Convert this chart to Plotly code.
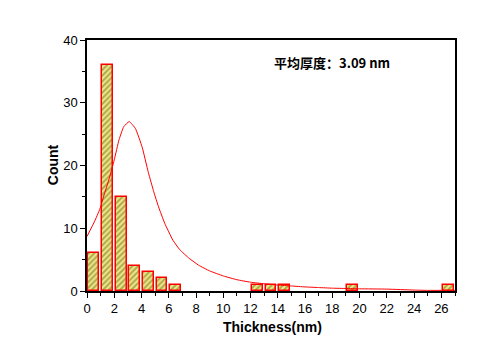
import plotly.graph_objects as go

# Histogram data
bin_centers = [0.5, 1.5, 2.5, 3.5, 4.5, 5.5, 6.5, 12.5, 13.5, 14.5, 19.5, 26.5]
counts = [6, 36, 15, 4, 3, 2, 1, 1, 1, 1, 1, 1]

# Fitted curve
fit_x = [0, 0.6, 1.0, 1.25, 1.6, 2.0, 2.35, 2.7, 3.1, 3.55, 4.05, 4.5, 4.9, 5.25, 5.7,
         6.3, 6.8, 7.5, 8.2, 9.0, 10.0, 11.0, 12.0, 13.0, 14.0, 15.0, 16.0, 17.0,
         18.0, 19.0, 20.0, 22.0, 24.0, 25.0, 27.0]
fit_y = [8.7, 11.3, 13.4, 15.3, 17.7, 20.9, 24.1, 26.2, 27.0, 25.9, 22.9, 18.9, 15.8, 13.4, 10.8,
         8.1, 6.6, 5.2, 4.1, 3.2, 2.4, 1.8, 1.4, 1.15, 0.95, 0.8, 0.65, 0.55,
         0.45, 0.4, 0.35, 0.3, 0.15, 0.1, 0.1]

annotation_text = "平均厚度：3.09 nm"
x_title = "Thickness(nm)"
y_title = "Count"

fig = go.Figure()
fig.add_trace(go.Bar(
    x=bin_centers, y=counts, width=0.8,
    marker=dict(
        color="#eee690",
        line=dict(color="red", width=1.5),
        pattern=dict(shape="/", fgcolor="#6e6e00", bgcolor="#eee690", size=4, solidity=0.5),
    ),
    showlegend=False,
))
fig.add_trace(go.Scatter(
    x=fit_x, y=fit_y, mode="lines",
    line=dict(color="red", width=1, shape="spline", smoothing=0.4),
    showlegend=False,
))

axis_font = dict(family="Liberation Sans, Arial", size=13, color="black")
title_font = dict(family="Liberation Sans, Arial", size=14, color="black")
fig.update_layout(
    width=487, height=344,
    margin=dict(l=87, r=32, t=40, b=53),
    paper_bgcolor="white", plot_bgcolor="white",
    bargap=0,
    xaxis=dict(
        range=[0, 27], tickmode="linear", tick0=0, dtick=2,
        ticks="outside", ticklen=5, tickwidth=1, tickcolor="black",
        minor=dict(ticks="outside", ticklen=3, dtick=1, tick0=0, tickcolor="black"),
        showline=True, linecolor="black", linewidth=1.5, mirror=True,
        showgrid=False, zeroline=False, automargin=False,
        tickfont=axis_font,
    ),
    yaxis=dict(
        range=[0, 40], tickmode="linear", tick0=0, dtick=10,
        ticks="outside", ticklen=5, tickwidth=1, tickcolor="black",
        minor=dict(ticks="outside", ticklen=3, dtick=5, tick0=0, tickcolor="black"),
        showline=True, linecolor="black", linewidth=1.5, mirror=True,
        showgrid=False, zeroline=False, automargin=False,
        tickfont=axis_font,
    ),
    annotations=[
        dict(x=0.666, y=0.912, xref="paper", yref="paper", xanchor="center", yanchor="middle",
             text="<b>" + annotation_text + "</b>", showarrow=False,
             font=dict(family="Noto Sans CJK SC, Liberation Sans", size=13, color="black")),
        dict(x=0.504, y=-0.143, xref="paper", yref="paper", xanchor="center", yanchor="middle",
             text="<b>" + x_title + "</b>", showarrow=False, font=title_font),
        dict(x=-0.092, y=0.502, xref="paper", yref="paper", xanchor="center", yanchor="middle",
             text="<b>" + y_title + "</b>", showarrow=False, textangle=-90, font=title_font),
    ],
)

fig.write_html("out.html")
